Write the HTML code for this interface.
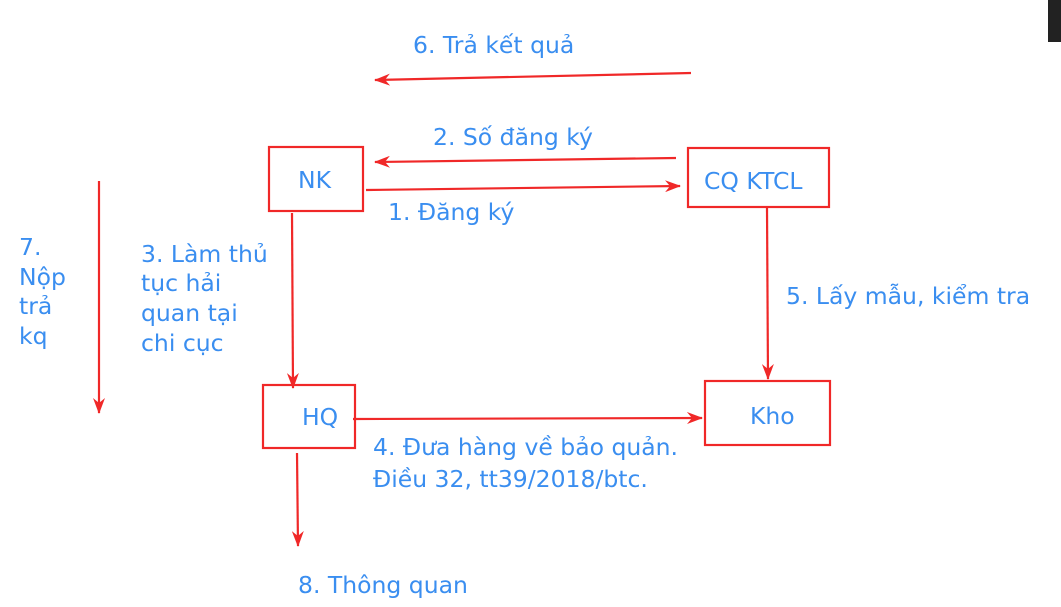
<!DOCTYPE html>
<html><head><meta charset="utf-8"><style>
html,body{margin:0;padding:0;background:#fff;width:1061px;height:607px;overflow:hidden}
svg{display:block}
text{font-family:"DejaVu Sans","Liberation Sans",sans-serif;font-size:23.5px;fill:#3a8ef0}
</style></head><body>
<svg width="1061" height="607" viewBox="0 0 1061 607" xmlns="http://www.w3.org/2000/svg">
<defs><marker id="a" markerWidth="16" markerHeight="12" refX="15" refY="6" orient="auto" markerUnits="userSpaceOnUse">
<path d="M0,0 L16,6 L0,12 L5,6 Z" fill="#f02828"/></marker></defs>
<rect x="1048" y="0" width="13" height="42" fill="#222"/>
<g fill="none" stroke="#f02828" stroke-width="2.2">
<rect x="269" y="147" width="94" height="64"/>
<rect x="688" y="148" width="141" height="59"/>
<rect x="263" y="385" width="92" height="63"/>
<rect x="705" y="381" width="125" height="64"/>
<line x1="691" y1="73" x2="375" y2="80" marker-end="url(#a)"/>
<line x1="676" y1="158" x2="375" y2="162" marker-end="url(#a)"/>
<line x1="366" y1="190" x2="680" y2="186" marker-end="url(#a)"/>
<line x1="292" y1="213" x2="293" y2="388" marker-end="url(#a)"/>
<line x1="767" y1="208" x2="768" y2="379" marker-end="url(#a)"/>
<line x1="353" y1="419" x2="702" y2="418" marker-end="url(#a)"/>
<line x1="297" y1="453" x2="298" y2="546" marker-end="url(#a)"/>
<line x1="99" y1="181" x2="99" y2="413" marker-end="url(#a)"/>
</g>
<text x="413" y="53">6. Trả kết quả</text>
<text x="433" y="145">2. Số đăng ký</text>
<text x="298" y="188">NK</text>
<text x="704" y="189">CQ KTCL</text>
<text x="388" y="220">1. Đăng ký</text>
<text x="19" y="255">7.</text>
<text x="19" y="285">Nộp</text>
<text x="19" y="314">trả</text>
<text x="19" y="344">kq</text>
<text x="141" y="262">3. Làm thủ</text>
<text x="141" y="291">tục hải</text>
<text x="141" y="321">quan tại</text>
<text x="141" y="351">chi cục</text>
<text x="786" y="304">5. Lấy mẫu, kiểm tra</text>
<text x="302" y="425">HQ</text>
<text x="750" y="424">Kho</text>
<text x="373" y="455">4. Đưa hàng về bảo quản.</text>
<text x="373" y="487">Điều 32, tt39/2018/btc.</text>
<text x="298" y="593">8. Thông quan</text>
</svg>
</body></html>
